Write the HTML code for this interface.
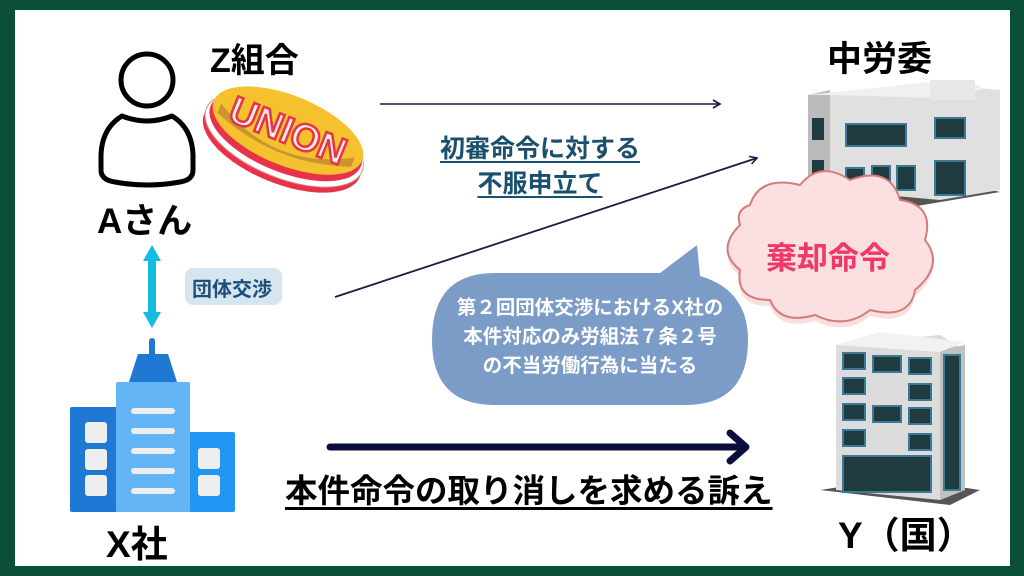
<!DOCTYPE html>
<html><head><meta charset="utf-8"><style>
html,body{margin:0;padding:0;}
body{width:1024px;height:576px;position:relative;overflow:hidden;background:#0b4f37;font-family:"Liberation Sans","Noto Sans CJK JP",sans-serif;}
.in{position:absolute;left:15px;top:10px;width:995px;height:556px;background:#fff;}
.t{position:absolute;font-weight:bold;white-space:nowrap;}
</style></head><body>
<div class="in"></div>
<svg width="1024" height="576" style="position:absolute;left:0;top:0" xmlns="http://www.w3.org/2000/svg">
<defs>
<marker id="ah" markerWidth="10" markerHeight="10" refX="8" refY="5" orient="auto" markerUnits="userSpaceOnUse"><path d="M1,1 L8,5 L1,9" fill="none" stroke="#1a1a40" stroke-width="1.6"/></marker>
</defs>
<circle cx="147" cy="80" r="26" fill="none" stroke="#000" stroke-width="5"/>
<path d="M122,116 Q102,128 101,155 L101,170 Q101,180 115,182 Q147,188 180,182 Q193,180 193,170 L193,155 Q192,128 172,116 Q147,126 122,116 Z" fill="none" stroke="#000" stroke-width="5" stroke-linejoin="round"/>
<g transform="rotate(22 285 138)">
<ellipse cx="285" cy="146" rx="84" ry="38" fill="#e8324a"/>
<ellipse cx="285" cy="140" rx="84" ry="38" fill="#fff" stroke="#c98" stroke-width="1"/>
<ellipse cx="285" cy="136" rx="81" ry="36" fill="#e8324a"/>
<ellipse cx="285" cy="130" rx="80" ry="35" fill="#f5c12e"/>
<path d="M213,130 Q285,172 357,130 L357,140 Q285,167 213,140Z" fill="#c99530"/>
<text x="285" y="143" text-anchor="middle" font-family="Liberation Sans" font-weight="bold" font-size="38" fill="#f6ece4" stroke="#e8324a" stroke-width="2.5">UNION</text>
</g>
<line x1="380" y1="104" x2="720" y2="104" stroke="#1a1a40" stroke-width="1.6" marker-end="url(#ah)"/>
<line x1="335" y1="297" x2="757" y2="158" stroke="#1a1a40" stroke-width="1.8" marker-end="url(#ah)"/>
<line x1="330" y1="447" x2="745" y2="447" stroke="#0d0d3d" stroke-width="7" stroke-linecap="round"/>
<path d="M730,433 L746,447 L730,461" fill="none" stroke="#0d0d3d" stroke-width="7" stroke-linecap="round" stroke-linejoin="round"/>
<rect x="148" y="259" width="8" height="56" fill="#12bde0"/>
<polygon points="152,245 143,261 161,261" fill="#12bde0"/>
<polygon points="152,328 143,312 161,312" fill="#12bde0"/>
<rect x="185" y="268" width="97" height="37" rx="8" fill="#d6e6f0"/>
<path d="M495,273 L660,273 L697,245 L700,276 Q748,290 748,340 Q748,405 685,405 L495,405 Q432,405 432,340 Q432,273 495,273Z" fill="#7b9cc7"/>
<polygon points="795,198 905,208 1000,192 930,175" fill="#555"/>
<polygon points="808,95 940,85 1000,90 1000,190 940,200 808,188" fill="#e0e0e0"/>
<polygon points="808,95 830,90 830,192 808,188" fill="#bbb"/>
<polygon points="808,95 930,82 980,85 980,90 940,98 830,95" fill="#f0f0f0"/>
<rect x="930" y="80" width="45" height="20" fill="#e8e8e8"/>
<rect x="846" y="124" width="60" height="22" fill="#1f3b40" stroke="#3a7a96" stroke-width="2"/>
<rect x="935" y="118" width="30" height="20" fill="#1f3b40" stroke="#3a7a96" stroke-width="2"/>
<rect x="846" y="168" width="18" height="28" fill="#1f3b40" stroke="#3a7a96" stroke-width="2"/>
<rect x="872" y="166" width="18" height="30" fill="#1f3b40" stroke="#3a7a96" stroke-width="2"/>
<rect x="897" y="166" width="18" height="24" fill="#1f3b40" stroke="#3a7a96" stroke-width="2"/>
<rect x="935" y="161" width="30" height="34" fill="#1f3b40" stroke="#3a7a96" stroke-width="2"/>
<rect x="812" y="118" width="12" height="22" fill="#1f3b40"/>
<rect x="812" y="160" width="12" height="24" fill="#1f3b40"/>
<g transform="translate(0,6)" fill="#f9dede">
<path d="M750,205 Q760,175 800,185 Q820,160 850,180 Q890,165 900,200 Q935,205 925,240 Q945,265 915,290 Q910,320 870,310 Q845,330 815,315 Q780,325 770,300 Q735,300 740,270 Q715,250 740,225 Q735,210 750,205Z"/>
</g>
<path d="M750,205 Q760,175 800,185 Q820,160 850,180 Q890,165 900,200 Q935,205 925,240 Q945,265 915,290 Q910,320 870,310 Q845,330 815,315 Q780,325 770,300 Q735,300 740,270 Q715,250 740,225 Q735,210 750,205Z" fill="#fcdfe0" stroke="#d47b7b" stroke-width="2"/>
<polygon points="820,490 950,505 980,490 900,478" fill="#555"/>
<polygon points="836,345 940,335 965,350 965,490 940,500 836,490" fill="#dcdcdc"/>
<polygon points="940,350 965,345 965,490 940,500" fill="#c0c0c0"/>
<polygon points="836,345 880,332 965,342 940,352" fill="#f2f2f2"/>
<g fill="#1f3b40" stroke="#3a7a96" stroke-width="2">
<rect x="843" y="353" width="22" height="16"/><rect x="873" y="356" width="28" height="16"/><rect x="909" y="358" width="22" height="16"/>
<rect x="843" y="378" width="22" height="16"/><rect x="909" y="384" width="22" height="16"/>
<rect x="843" y="404" width="22" height="16"/><rect x="873" y="406" width="28" height="16"/><rect x="909" y="408" width="22" height="16"/>
<rect x="843" y="430" width="22" height="16"/><rect x="909" y="434" width="22" height="16"/>
<rect x="843" y="456" width="88" height="36"/>
<rect x="944" y="355" width="16" height="135"/>
</g>
<rect x="70" y="407" width="48" height="105" rx="2" fill="#1e78d4"/>
<rect x="188" y="432" width="47" height="80" rx="2" fill="#2196f3"/>
<rect x="116" y="382" width="74" height="130" rx="2" fill="#64b5f6"/>
<polygon points="129,382 177,382 168,354 138,354" fill="#1e78d4"/>
<rect x="149" y="338" width="6" height="20" rx="3" fill="#1e78d4"/>
<g fill="#eee">
<rect x="85" y="422" width="22" height="21" rx="3"/><rect x="85" y="449" width="22" height="21" rx="3"/><rect x="85" y="475" width="22" height="21" rx="3"/>
<rect x="198" y="448" width="22" height="21" rx="3"/><rect x="198" y="475" width="22" height="21" rx="3"/>
<rect x="131" y="408" width="44" height="6" rx="3"/><rect x="131" y="428" width="44" height="6" rx="3"/><rect x="131" y="448" width="44" height="6" rx="3"/><rect x="131" y="468" width="44" height="6" rx="3"/><rect x="131" y="488" width="44" height="6" rx="3"/>
</g>
</svg>
<div class="t" style="left:210px;top:33px;font-size:34px;">Z組合</div>
<div class="t" style="left:97px;top:193px;font-size:35px;">Aさん</div>
<div class="t" style="left:827px;top:31px;font-size:35px;">中労委</div>
<div class="t" style="left:106px;top:514px;font-size:37px;">X社</div>
<div class="t" style="left:838px;top:505px;font-size:37px;">Y（国）</div>
<div class="t" style="left:192px;top:273px;font-size:20px;color:#1f4e79;">団体交渉</div>
<div class="t" style="left:380px;top:132px;width:320px;text-align:center;font-size:25px;line-height:35px;color:#1a4f6e;text-decoration:underline;text-underline-offset:4px;">初審命令に対する<br>不服申立て</div>
<div class="t" style="left:432px;top:294px;width:316px;text-align:center;font-size:19.5px;line-height:29px;color:#fff;">第２回団体交渉におけるX社の<br>本件対応のみ労組法７条２号<br>の不当労働行為に当たる</div>
<div class="t" style="left:766px;top:233px;font-size:31px;color:#f0386b;">棄却命令</div>
<div class="t" style="left:285px;top:465px;font-size:32.5px;text-decoration:underline;text-underline-offset:5px;">本件命令の取り消しを求める訴え</div>
</body></html>
